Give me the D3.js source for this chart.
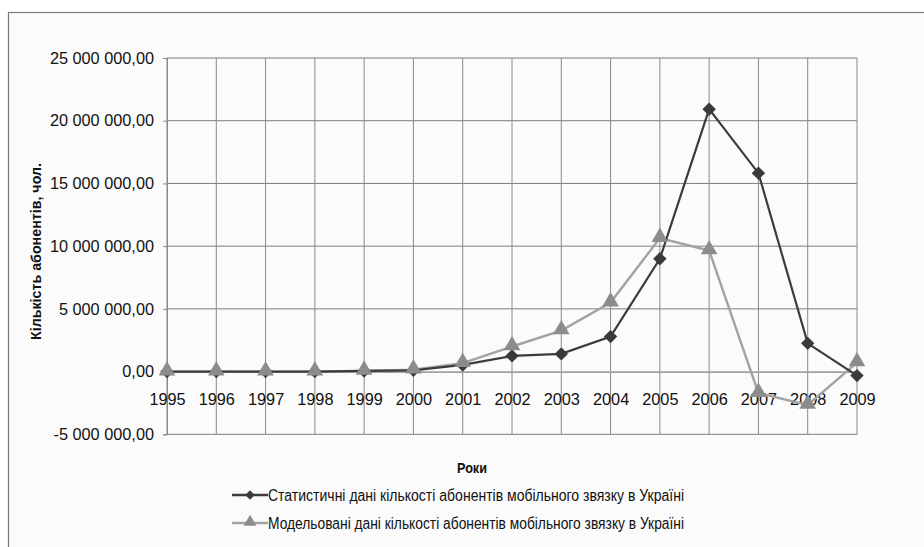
<!DOCTYPE html>
<html>
<head>
<meta charset="utf-8">
<script src="https://cdn.jsdelivr.net/npm/d3@7"></script>
<style>
  html, body { margin: 0; padding: 0; background: #fff; }
  svg { display: block; font-family: "Liberation Sans", Arial, sans-serif; }
</style>
</head>
<body>
<svg id="chart" width="924" height="547"></svg>
<script>
// Years on the category axis
const years = [1995, 1996, 1997, 1998, 1999, 2000, 2001, 2002, 2003, 2004, 2005, 2006, 2007, 2008, 2009];

// Statistical data: mobile subscribers in Ukraine
const statValues = [0, 0, 0, 0, 50000, 100000, 530000, 1250000, 1410000, 2790000, 8990000, 20920000, 15820000, 2250000, -320000];

// Modelled data: mobile subscribers in Ukraine
const modelValues = [0, 0, 0, 0, 60000, 150000, 670000, 2000000, 3270000, 5500000, 10640000, 9650000, -1720000, -2660000, 720000];

// Value axis ticks
const yTicks = [-5000000, 0, 5000000, 10000000, 15000000, 20000000, 25000000];

const seriesNames = [
  "Статистичні дані кількості абонентів мобільного звязку в Україні",
  "Модельовані дані кількості абонентів мобільного звязку в Україні"
];

const svg = d3.select("#chart");

// Chart frame
svg.append("rect")
  .attr("x", 8.5).attr("y", 12.5)
  .attr("width", 930).attr("height", 550)
  .attr("fill", "#fbfbfb")
  .attr("stroke", "#7a7a7a").attr("stroke-width", 1.2);

const plot = { left: 167, right: 857, top: 58, bottom: 434.3 };

const x = d3.scalePoint().domain(years).range([plot.left, plot.right]);
const y = d3.scaleLinear().domain([-5000000, 25000000]).range([plot.bottom, plot.top]);

const fmt = v => {
  const s = d3.format(",.2f")(Math.abs(v)).replace(/,/g, " ").replace(".", ",");
  return (v < 0 ? "-" : "") + s;
};

// Horizontal gridlines
svg.append("g").selectAll("line").data(yTicks.filter(t => t !== 0)).join("line")
  .attr("x1", plot.left).attr("x2", plot.right)
  .attr("y1", d => y(d)).attr("y2", d => y(d))
  .attr("stroke", "#7c7c7c").attr("stroke-width", 1);

// Vertical gridlines
svg.append("g").selectAll("line").data(years).join("line")
  .attr("x1", d => x(d)).attr("x2", d => x(d))
  .attr("y1", plot.top).attr("y2", plot.bottom)
  .attr("stroke", "#8a8a8a").attr("stroke-width", 1);

// Value axis with ticks and labels
const yAxis = d3.axisLeft(y).tickValues(yTicks).tickSize(4).tickPadding(9).tickFormat(fmt);
const yg = svg.append("g").attr("transform", `translate(${plot.left},0)`).call(yAxis);
yg.select(".domain").attr("stroke", "#888").attr("stroke-width", 1);
yg.selectAll(".tick line").attr("stroke", "#888");
yg.selectAll(".tick text")
  .attr("fill", "#111").style("font-size", "16.3px")
  .style("font-family", "'Liberation Sans', Arial, sans-serif");

// Category axis crossing at zero
const xAxis = d3.axisBottom(x).tickSize(0).tickPadding(22);
const xg = svg.append("g").attr("transform", `translate(0,${y(0)})`).call(xAxis);
xg.select(".domain").attr("stroke", "#a0a0a0").attr("stroke-width", 1.6);
xg.selectAll(".tick text")
  .attr("fill", "#111").style("font-size", "16.3px")
  .style("font-family", "'Liberation Sans', Arial, sans-serif");

const line = d3.line().x((d, i) => x(years[i])).y(d => y(d));

// Modelled series
svg.append("path").datum(modelValues)
  .attr("d", line).attr("fill", "none")
  .attr("stroke", "#a2a2a2").attr("stroke-width", 2.4);

// Statistical series
svg.append("path").datum(statValues)
  .attr("d", line).attr("fill", "none")
  .attr("stroke", "#3c3c3c").attr("stroke-width", 2.2);

const diamond = d3.symbol().type(d3.symbolSquare).size(90);
const triangle = d3.symbol().type(d3.symbolTriangle).size(120);

svg.append("g").selectAll("path").data(statValues).join("path")
  .attr("d", diamond)
  .attr("transform", (d, i) => `translate(${x(years[i])},${y(d)}) rotate(45)`)
  .attr("fill", "#3a3a3a");

svg.append("g").selectAll("path").data(modelValues).join("path")
  .attr("d", triangle)
  .attr("transform", (d, i) => `translate(${x(years[i])},${y(d) - 1})`)
  .attr("fill", "#8c8c8c");

// Axis titles
svg.append("text")
  .attr("x", 472).attr("y", 473)
  .attr("text-anchor", "middle")
  .attr("font-weight", "bold").attr("font-size", 15.5)
  .attr("textLength", 30).attr("lengthAdjust", "spacingAndGlyphs")
  .attr("fill", "#111")
  .text("Роки");

svg.append("text")
  .attr("transform", "translate(40.5,251.5) rotate(-90)")
  .attr("text-anchor", "middle")
  .attr("font-weight", "bold").attr("font-size", 15.5)
  .attr("textLength", 177).attr("lengthAdjust", "spacingAndGlyphs")
  .attr("fill", "#111")
  .text("Кількість абонентів, чол.");

// Legend
const legendRows = [
  { name: seriesNames[0], color: "#3c3c3c", rot: 45, mcolor: "#3a3a3a", y: 495 },
  { name: seriesNames[1], color: "#a2a2a2", rot: 0, mcolor: "#8c8c8c", y: 523 }
];
const lg = svg.append("g").selectAll("g").data(legendRows).join("g");
lg.append("line")
  .attr("x1", 232).attr("x2", 268)
  .attr("y1", d => d.y).attr("y2", d => d.y)
  .attr("stroke", d => d.color).attr("stroke-width", 2.4);
lg.append("path")
  .attr("d", (d, i) => i === 0 ? d3.symbol().type(d3.symbolSquare).size(45)() : d3.symbol().type(d3.symbolTriangle).size(70)())
  .attr("transform", d => `translate(250,${d.y - (d.rot ? 0 : 1)}) rotate(${d.rot})`)
  .attr("fill", d => d.mcolor);
lg.append("text")
  .attr("x", 268).attr("y", d => d.y + 6)
  .attr("font-size", 16)
  .attr("textLength", 416).attr("lengthAdjust", "spacingAndGlyphs")
  .attr("fill", "#111")
  .text(d => d.name);
</script>
</body>
</html>
